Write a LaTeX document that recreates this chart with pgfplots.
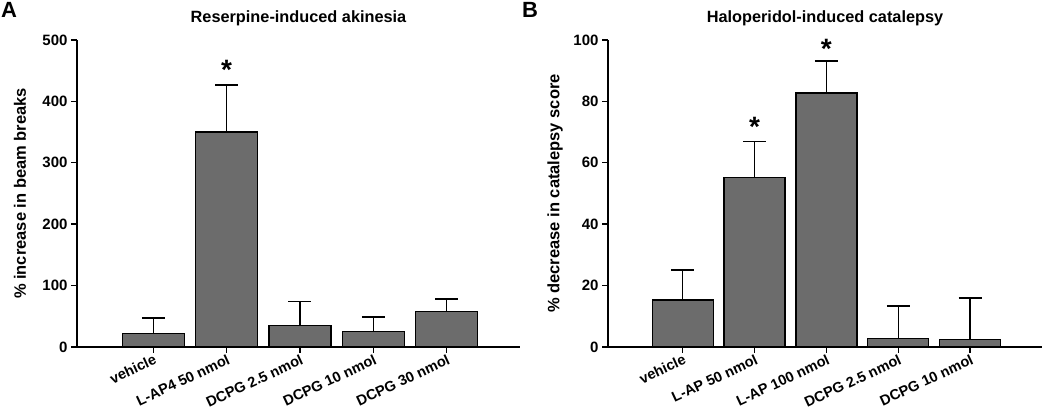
\documentclass[border=0pt]{standalone}
\usepackage{fontspec}
\setmainfont{Liberation Sans}
\usepackage{pgfplots}
\pgfplotsset{compat=1.18}
\definecolor{barfill}{RGB}{108,108,108}
\tikzset{star/.style={font=\bfseries\fontsize{28}{28}\selectfont, anchor=north, inner sep=0pt}}
\pgfplotsset{
  myaxis/.style={
    scale only axis,
    axis lines=left,
    axis line style={-, line width=1.4pt},
    every tick/.style={black, line width=1.4pt},
    major tick length=6pt,
    tick align=outside,
    xmin=-1.04, xmax=5.0,
    xtick={0,...,4},
    ymin=0,
    clip=false,
    /pgf/number format/assume math mode=true,
    tick label style={font=\bfseries\fontsize{15}{17}\selectfont},
    xticklabel style={font=\bfseries\fontsize{14.5}{16}\selectfont, rotate=25, anchor=north east, inner sep=0.5pt},
    label style={font=\bfseries\fontsize{16.5}{18}\selectfont},
    title style={font=\bfseries\fontsize{16.3}{18}\selectfont, at={(axis description cs:0.5,1)}, anchor=base, yshift=11pt},
    ybar,
  },
  mybars/.style={fill=barfill, draw=black, line width=1.3pt,
    error bars/.cd, y dir=plus, y explicit,
    error mark options={rotate=90, line width=1.4pt, mark size=11.5pt, black},
    error bar style={line width=1.4pt, black}},
}
\begin{document}
\begin{tikzpicture}
\useasboundingbox (0,0) rectangle (1050pt,409pt);
\node[anchor=base west, font=\bfseries\fontsize{22}{22}\selectfont, inner sep=0pt] at (1pt,391pt) {A};
\node[anchor=base west, font=\bfseries\fontsize{22}{22}\selectfont, inner sep=0pt] at (522pt,391pt) {B};
\begin{axis}[myaxis,
  at={(77pt,62pt)}, anchor=south west, width=443pt, height=307pt,
  ymax=500, ytick={0,100,...,500},
  xticklabels={vehicle, L-AP4 50 nmol, DCPG 2.5 nmol, DCPG 10 nmol, DCPG 30 nmol},
  ylabel={\% increase in beam breaks},
  ylabel style={at={(axis description cs:-0.129,0.5)}, anchor=center},
  title={Reserpine-induced akinesia},
  bar width=62pt]
\addplot[mybars] coordinates {
  (0,22) +- (0,25)
  (1,350) +- (0,77)
  (2,35) +- (0,39)
  (3,25) +- (0,24)
  (4,58) +- (0,20)
};
\node[star] at (axis cs:1,467) {*};
\end{axis}
\begin{axis}[myaxis,
  at={(608pt,62pt)}, anchor=south west, width=434pt, height=307pt,
  ymax=100, ytick={0,20,...,100},
  xticklabels={vehicle, L-AP 50 nmol, L-AP 100 nmol, DCPG 2.5 nmol, DCPG 10 nmol},
  ylabel={\% decrease in catalepsy score},
  ylabel style={at={(axis description cs:-0.122,0.5)}, anchor=center},
  title={Haloperidol-induced catalepsy},
  bar width=61pt]
\addplot[mybars] coordinates {
  (0,15.3) +- (0,9.8)
  (1,55.3) +- (0,11.6)
  (2,82.7) +- (0,10.5)
  (3,2.8) +- (0,10.6)
  (4,2.5) +- (0,13.4)
};
\node[star] at (axis cs:1,74.9) {*};
\node[star] at (axis cs:2,100.3) {*};
\end{axis}
\end{tikzpicture}
\end{document}
